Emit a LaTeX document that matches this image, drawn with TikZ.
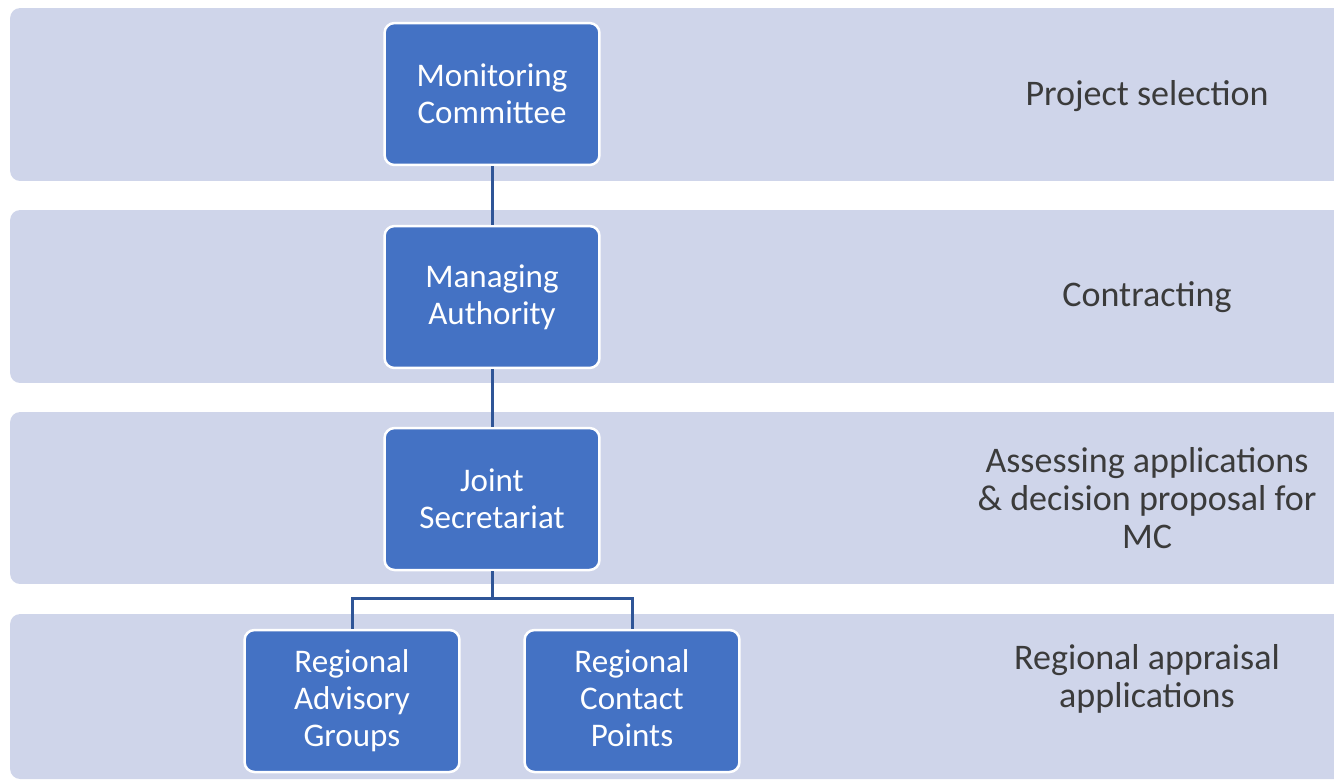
\documentclass[tikz,border=0pt]{standalone}
\usepackage{fontspec}
\setmainfont{Carlito}
\usepackage{tikz}
\usetikzlibrary{calc,positioning}
\definecolor{bandfill}{HTML}{CFD5EA}
\definecolor{boxfill}{HTML}{4472C4}
\definecolor{linkblue}{HTML}{2F5597}
\definecolor{labelgray}{HTML}{3B3B3B}

\begin{document}
\begin{tikzpicture}[x=0.02cm,y=-0.02cm]
    % Setup the styles for the bands, boxes and labels
        \tikzset{band style/.style={rectangle,
                                    rounded corners=0.2cm,
                                    fill=bandfill,
                                    minimum width=27cm,
                                    inner sep=0pt},
                 box style/.style={rectangle,
                                   rounded corners=0.2cm,
                                   draw=white,
                                   line width=0.5mm,
                                   fill=boxfill,
                                   text=white,
                                   align=center,
                                   minimum width=4.3cm,
                                   minimum height=2.84cm,
                                   font=\fontsize{18.8}{21}\selectfont},
                 label style/.style={text=labelgray,
                                     align=center,
                                     font=\fontsize{20.5}{21.6}\selectfont},
                 link style/.style={draw=linkblue,
                                    line width=0.6mm}}
        \useasboundingbox (0,0) rectangle (1334,782);
        % Draw the bands
        \node[band style, minimum height=3.46cm] at (685,94.5)  (band_1) {};
        \node[band style, minimum height=3.46cm] at (685,296.5) (band_2) {};
        \node[band style, minimum height=3.44cm] at (685,498)   (band_3) {};
        \node[band style, minimum height=3.30cm] at (685,696.5) (band_4) {};
        % Draw the boxes
        \node[box style] at (492,94)  (box_mc)  {Monitoring\\Committee};
        \node[box style] at (492,297) (box_ma)  {Managing\\Authority};
        \node[box style] at (492,499) (box_js)  {Joint\\Secretariat};
        \node[box style] at (352,701) (box_rag) {Regional\\Advisory\\Groups};
        \node[box style] at (632,701) (box_rcp) {Regional\\Contact\\Points\vphantom{p}};
        % Draw the labels
        \node[label style] at (1147,96)  (label_1) {Project selection};
        \node[label style] at (1147,297) (label_2) {Contracting};
        \node[label style] at (1147,498) (label_3) {Assessing applications\\\& decision proposal for\\MC};
        \node[label style] at (1147,679) (label_4) {Regional appraisal\\applications};
        % Connect the boxes
        \draw[link style] (box_mc) -- (box_ma);
        \draw[link style] (box_ma) -- (box_js);
        \draw[link style] (box_js.south) -- ++(0,27) -| (box_rag.north);
        \draw[link style] (box_js.south) -- ++(0,27) -| (box_rcp.north);
\end{tikzpicture}
\end{document}
